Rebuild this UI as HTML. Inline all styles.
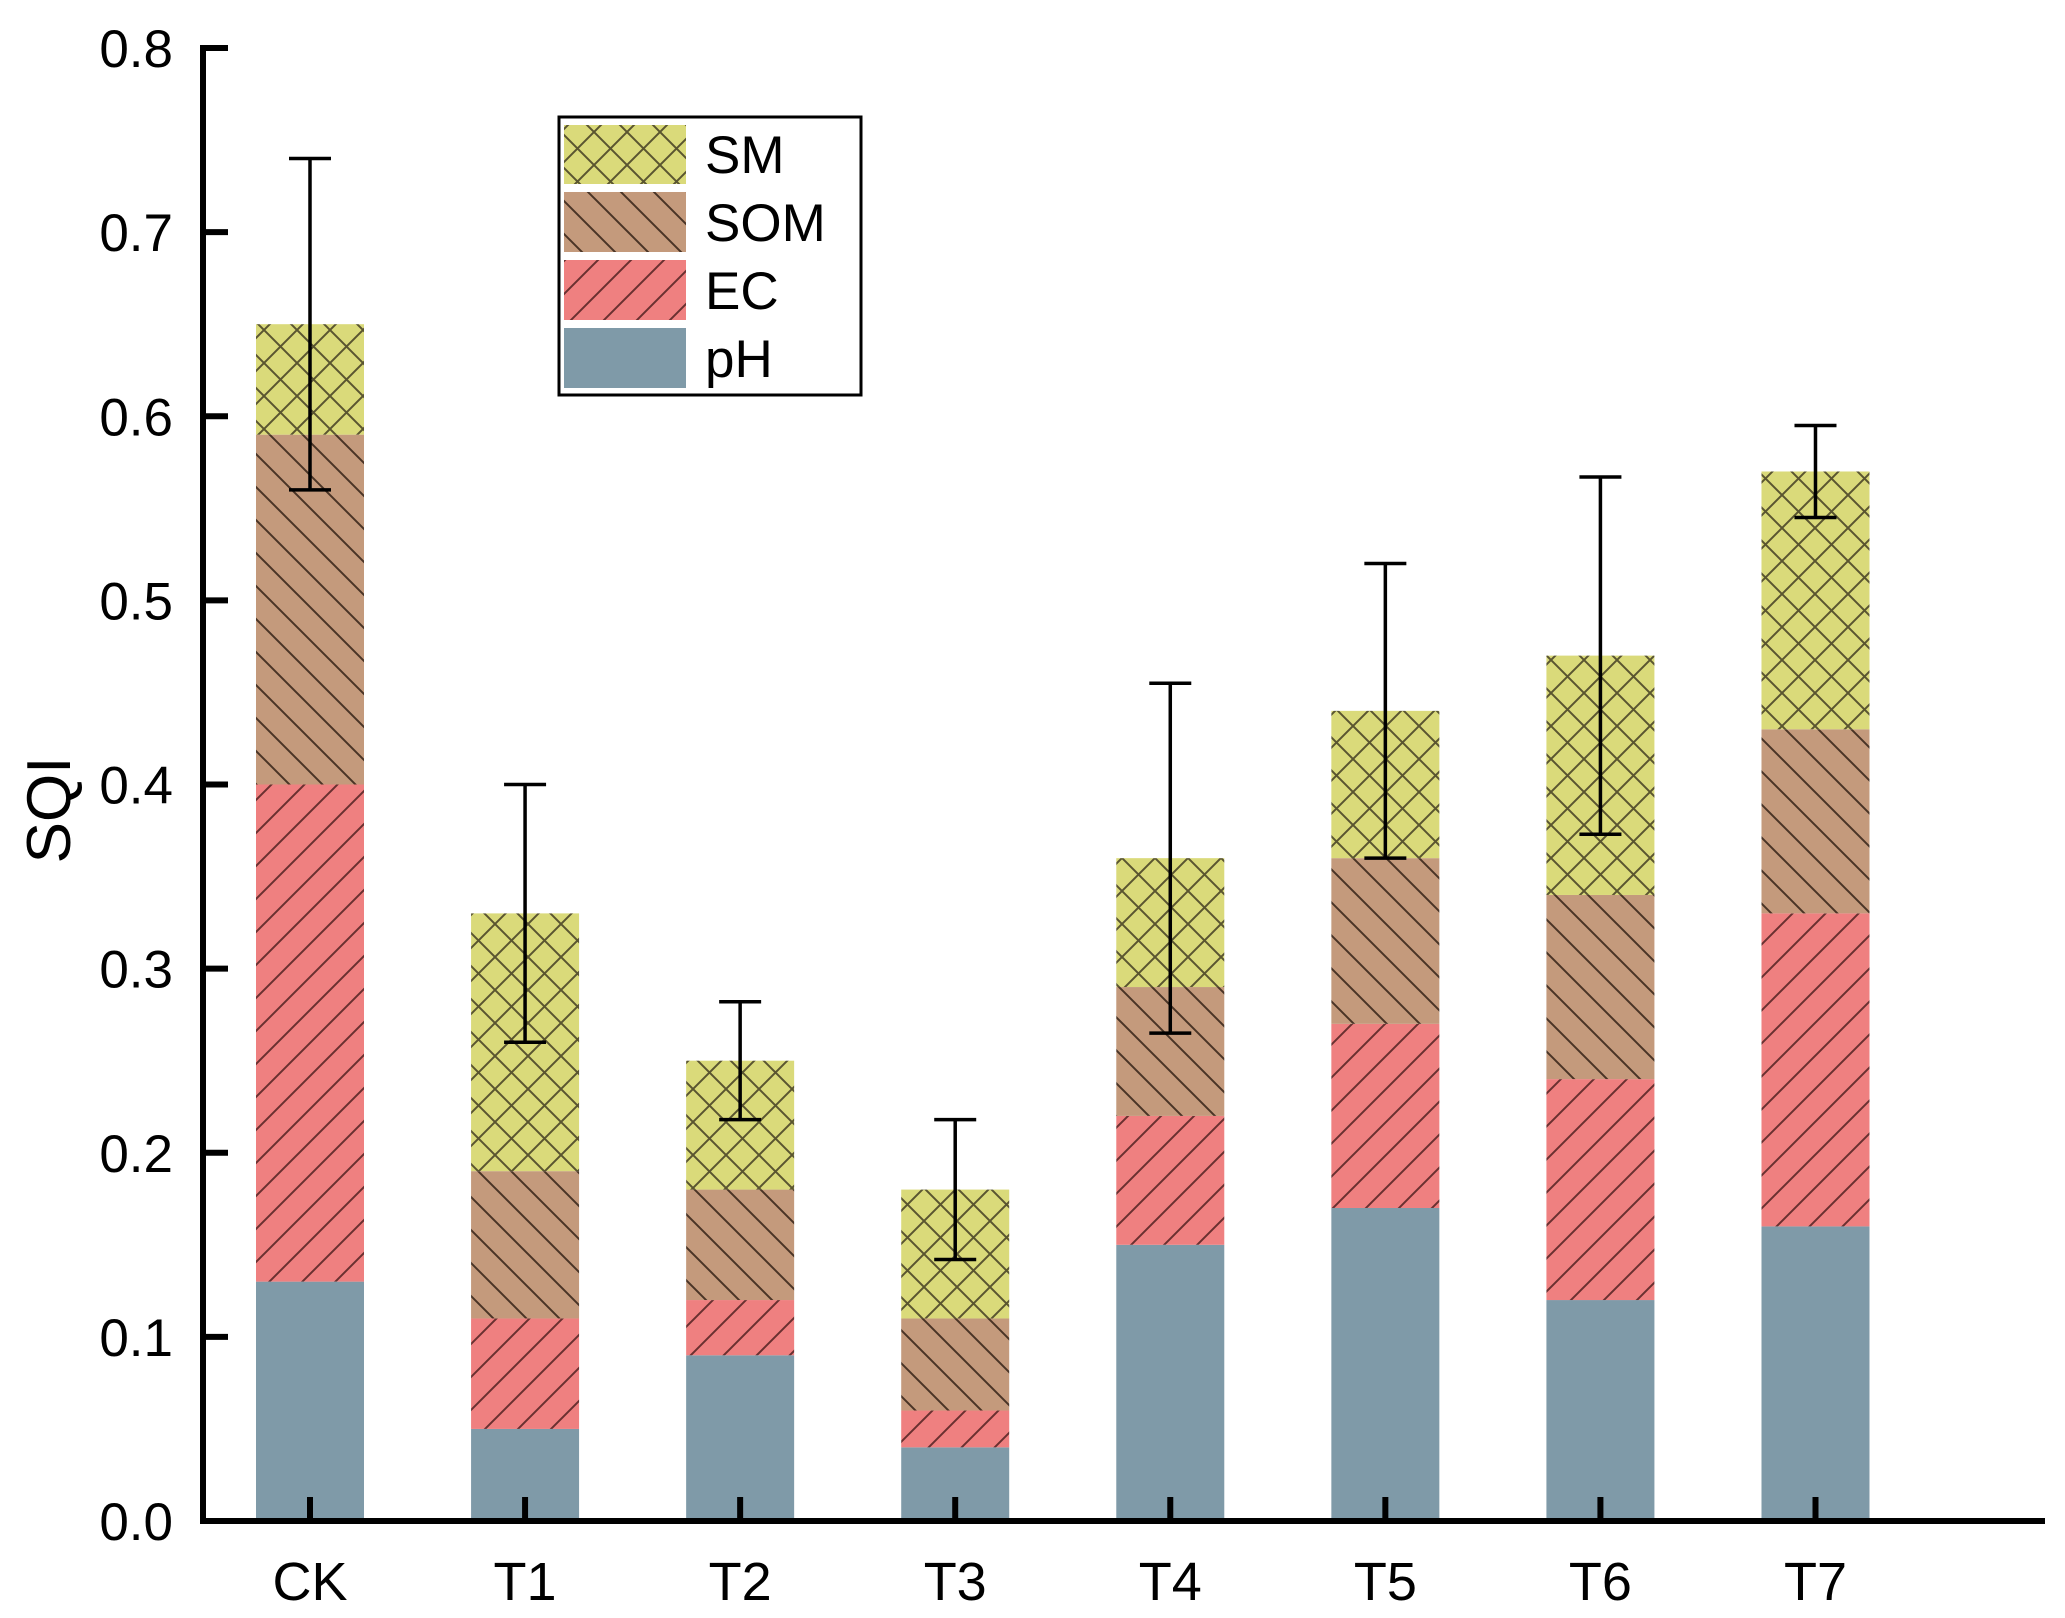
<!DOCTYPE html>
<html><head><meta charset="utf-8"><style>
html,body{margin:0;padding:0;background:#fff;}
svg{display:block;font-family:"Liberation Sans",Arial,sans-serif;}
</style></head><body>
<svg id="chart" width="2065" height="1618" viewBox="0 0 2065 1618" xmlns="http://www.w3.org/2000/svg">
<defs>
<pattern id="pSM" patternUnits="userSpaceOnUse" width="33" height="33">
<rect width="33" height="33" fill="#dada7a"/>
<path d="M0,0L33,33M0,33L33,0" stroke="#5a5530" stroke-width="2"/>
</pattern>
<pattern id="pSOM" patternUnits="userSpaceOnUse" width="33" height="33">
<rect width="33" height="33" fill="#c49a7c"/>
<path d="M0,0L33,33M-5,28L5,38M28,-5L38,5" stroke="#4a3426" stroke-width="2"/>
</pattern>
<pattern id="pEC" patternUnits="userSpaceOnUse" width="33" height="33">
<rect width="33" height="33" fill="#ef8080"/>
<path d="M0,33L33,0M-5,5L5,-5M28,38L38,28" stroke="#6a3030" stroke-width="2"/>
</pattern>
</defs>
<g id="plot"></g>
<g id="legend">
<rect x="559" y="117" width="302" height="278" fill="#fff" stroke="#000" stroke-width="3"/>
<rect x="564" y="125" width="122" height="59" fill="url(#pSM)"/>
<text x="705" y="173" font-size="53">SM</text>
<rect x="564" y="192" width="122" height="60" fill="url(#pSOM)"/>
<text x="705" y="241" font-size="53">SOM</text>
<rect x="564" y="260" width="122" height="60" fill="url(#pEC)"/>
<text x="705" y="309" font-size="53">EC</text>
<rect x="564" y="328" width="122" height="60" fill="#7f9aa8"/>
<text x="705" y="377" font-size="53">pH</text>
</g>
</svg>
<script>
const categories = ["CK","T1","T2","T3","T4","T5","T6","T7"];
const pH  = [0.13,0.05,0.09,0.04,0.15,0.17,0.12,0.16];
const EC  = [0.27,0.06,0.03,0.02,0.07,0.10,0.12,0.17];
const SOM = [0.19,0.08,0.06,0.05,0.07,0.09,0.10,0.10];
const SM  = [0.06,0.14,0.07,0.07,0.07,0.08,0.13,0.14];
const errs = [0.09,0.07,0.032,0.038,0.095,0.08,0.097,0.025];
const yTicks = [0.0,0.1,0.2,0.3,0.4,0.5,0.6,0.7,0.8];

const NS="http://www.w3.org/2000/svg";
const g=document.getElementById('plot');
const y0=1521, yTop=48, yMax=0.8;
const yS=v=>y0-(v/yMax)*(y0-yTop);
const xC=i=>310+i*215.07;
const bw=108;
function mk(t,a){const e=document.createElementNS(NS,t);for(const k in a)e.setAttribute(k,a[k]);g.appendChild(e);return e;}

const series=[[pH,'#7f9aa8','ph'],[EC,'url(#pEC)','ec'],[SOM,'url(#pSOM)','som'],[SM,'url(#pSM)','sm']];
categories.forEach((c,i)=>{
  let base=0;
  series.forEach(([arr,fill,nm])=>{
    const v=arr[i];
    const r=mk('rect',{x:xC(i)-bw/2,y:yS(base+v),width:bw,height:yS(base)-yS(base+v),fill:fill});
    
    
    base+=v;
  });
  const lo=yS(base-errs[i]), hi=yS(base+errs[i]);
  const eb=mk('path',{d:`M${xC(i)},${lo}L${xC(i)},${hi}M${xC(i)-21},${hi}L${xC(i)+21},${hi}M${xC(i)-21},${lo}L${xC(i)+21},${lo}`,stroke:'#000','stroke-width':3.5,fill:'none'});
  
  
  const tk=mk('line',{x1:xC(i),x2:xC(i),y1:y0,y2:y0-24,stroke:'#000','stroke-width':6});
  
  
  const tl=mk('text',{x:xC(i),y:1600,'font-size':54,'text-anchor':'middle'});
  tl.textContent=c;
  
  
});
yTicks.forEach(v=>{
  const tk=mk('line',{x1:203,x2:228,y1:yS(v),y2:yS(v),stroke:'#000','stroke-width':6});
  
  
  const tl=mk('text',{x:173,y:yS(v)+19,'font-size':53,'text-anchor':'end'});
  tl.textContent=v.toFixed(1);
  
  
});
const ax=mk('path',{d:`M203,${yTop-3}L203,${y0}L2045,${y0}`,stroke:'#000','stroke-width':6,fill:'none'});


const yt=mk('text',{x:0,y:0,'font-size':62,'text-anchor':'middle',transform:'translate(70,810) rotate(-90)'});
yt.textContent='SQI';


</script>
</body></html>
